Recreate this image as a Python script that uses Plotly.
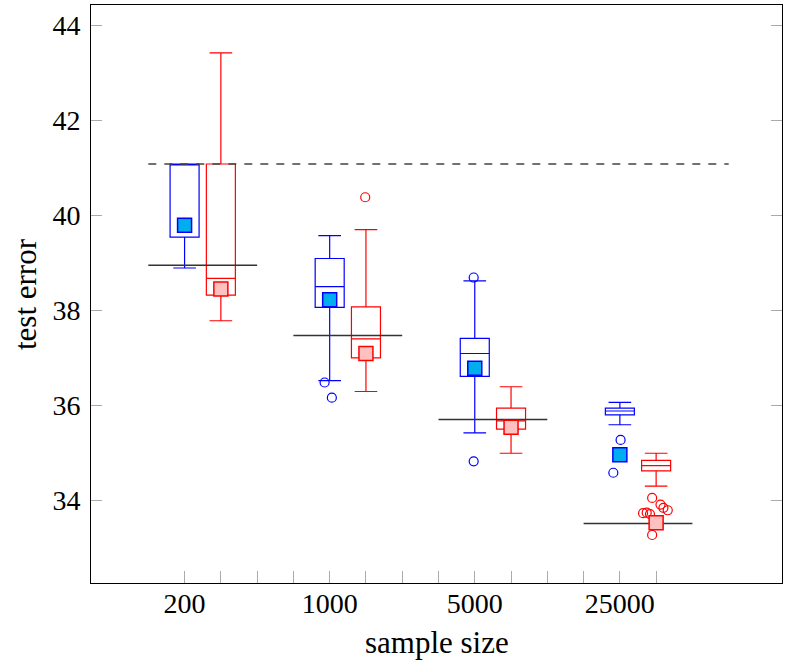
import plotly.graph_objects as go

# ---- data ----
group_labels = ["200", "1000", "5000", "25000"]
blue_pos = [1, 5, 9, 13]
red_pos = [2, 6, 10, 14]

blue_lower = [38.89, 36.52, 35.42, 35.59]
blue_q1 = [39.54, 38.06, 36.61, 35.80]
blue_median = [41.08, 38.50, 37.09, 35.88]
blue_q3 = [41.08, 39.09, 37.41, 35.94]
blue_upper = [41.08, 39.57, 38.62, 36.06]
blue_mean = [39.79, 38.22, 36.78, 34.96]

red_lower = [37.78, 36.29, 34.99, 34.30]
red_q1 = [38.32, 37.00, 35.50, 34.62]
red_median = [38.67, 37.40, 35.67, 34.73]
red_q3 = [41.08, 38.07, 35.94, 34.84]
red_upper = [43.42, 39.70, 36.39, 34.99]
red_mean = [38.45, 37.09, 35.54, 33.53]

blue_out_x = [4.86, 5.06, 8.97, 8.97, 13.02, 12.82]
blue_out_y = [36.48, 36.16, 38.69, 34.82, 35.27, 34.58]
red_out_x = [5.98, 13.89, 14.12, 14.20, 14.32, 13.64, 13.74, 13.83, 13.89]
red_out_y = [40.38, 34.05, 33.91, 33.84, 33.79, 33.73, 33.74, 33.71, 33.27]

baseline = [38.95, 37.47, 35.70, 33.51]
reference_level = 41.08
y_ticks = [34, 36, 38, 40, 42, 44]

BLUE = "#0000ff"
RED = "#ff0000"

fig = go.Figure()

bx, by = [], []
for p, v in zip(blue_pos, baseline):
    bx += [p - 1, p + 2, None]
    by += [v, v, None]
fig.add_trace(go.Scatter(x=bx, y=by, mode="lines",
                         line=dict(color="#333333", width=1.5),
                         hoverinfo="skip", showlegend=False))
fig.add_trace(go.Scatter(x=[0, 16], y=[reference_level, reference_level], mode="lines",
                         line=dict(color="#444444", width=1.5, dash="8px,8px"),
                         hoverinfo="skip", showlegend=False))

for pos, lo, q1, med, q3, up, col in [
    (blue_pos, blue_lower, blue_q1, blue_median, blue_q3, blue_upper, BLUE),
    (red_pos, red_lower, red_q1, red_median, red_q3, red_upper, RED),
]:
    fig.add_trace(go.Box(x=pos, q1=q1, median=med, q3=q3,
                         lowerfence=lo, upperfence=up,
                         boxpoints=False, width=0.8, whiskerwidth=0.78,
                         line=dict(color=col, width=1.2),
                         fillcolor="rgba(0,0,0,0)", showlegend=False))

fig.add_trace(go.Scatter(x=blue_out_x, y=blue_out_y, mode="markers",
                         marker=dict(symbol="circle-open", size=9, color=BLUE,
                                     line=dict(width=1.2)),
                         showlegend=False))
fig.add_trace(go.Scatter(x=red_out_x, y=red_out_y, mode="markers",
                         marker=dict(symbol="circle-open", size=9, color=RED,
                                     line=dict(width=1.2)),
                         showlegend=False))

fig.add_trace(go.Scatter(x=blue_pos, y=blue_mean, mode="markers",
                         marker=dict(symbol="square", size=14, color="#00aeef",
                                     line=dict(color=BLUE, width=1.5)),
                         showlegend=False))
fig.add_trace(go.Scatter(x=red_pos, y=red_mean, mode="markers",
                         marker=dict(symbol="square", size=14, color="#ffc0c0",
                                     line=dict(color=RED, width=1.5)),
                         showlegend=False))

xtickvals = list(range(1, 15))
xticktext = [group_labels[blue_pos.index(v)] if v in blue_pos else "" for v in xtickvals]

FAMILY = "Liberation Serif, DejaVu Serif, serif"
tickfont = dict(family=FAMILY, size=28, color="black")
titlefont = dict(family=FAMILY, size=31, color="black")

fig.update_layout(
    width=788, height=672,
    margin=dict(l=91, r=6, t=5, b=89),
    paper_bgcolor="white", plot_bgcolor="white",
    font=dict(family=FAMILY, size=26, color="black"),
    boxmode="overlay",
    xaxis=dict(range=[-1.58, 17.47], tickvals=xtickvals, ticktext=xticktext,
               ticks="inside", ticklen=12, tickcolor="#aaaaaa", tickwidth=1,
               tickfont=tickfont,
               showgrid=False, zeroline=False, automargin=False,
               showline=True, linecolor="black", linewidth=1, mirror=True,
               ticklabelstandoff=-5),
    yaxis=dict(range=[32.259, 44.427], tickvals=y_ticks,
               ticks="inside", ticklen=11, tickcolor="#aaaaaa", tickwidth=1,
               tickfont=tickfont,
               showgrid=False, zeroline=False, automargin=False,
               showline=True, linecolor="black", linewidth=1, mirror="ticks",
               ticklabelstandoff=4),
    annotations=[
        dict(text="sample size", xref="paper", yref="paper", x=0.5, y=-0.1038,
             xanchor="center", yanchor="middle", showarrow=False, font=titlefont),
        dict(text="test error", xref="paper", yref="paper", x=-0.0955, y=0.5,
             xanchor="center", yanchor="middle", textangle=-90, showarrow=False,
             font=titlefont),
    ],
)

fig.write_html("out.html", config={"displayModeBar": False},
               post_script="document.body.style.margin='0';document.body.style.overflow='hidden';")
